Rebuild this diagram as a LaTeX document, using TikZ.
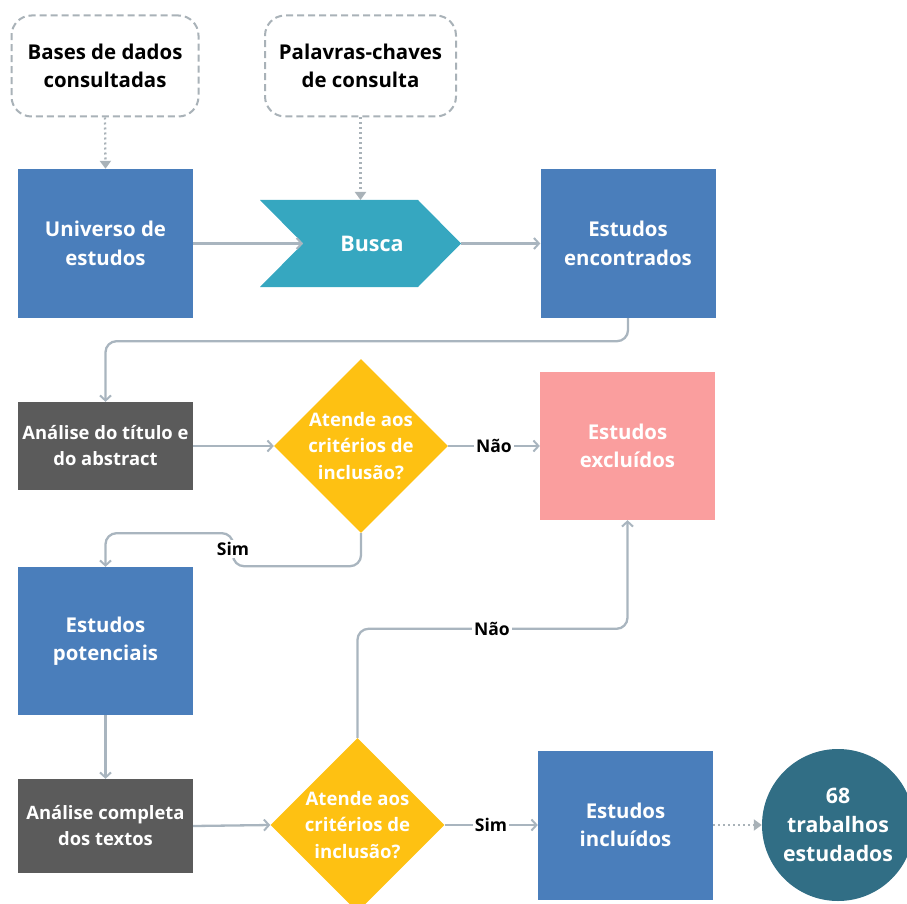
\documentclass[tikz,border=0pt]{standalone}
\usepackage{fontspec}
\setmainfont{Open Sans}
\usetikzlibrary{arrows.meta,shapes.geometric}

\definecolor{stepblue}{HTML}{4A7EBB}
\definecolor{stepgray}{HTML}{5B5B5B}
\definecolor{searchteal}{HTML}{36A7C0}
\definecolor{decisionyellow}{HTML}{FEC112}
\definecolor{rejectpink}{HTML}{FA9E9E}
\definecolor{resultteal}{HTML}{316E85}
\definecolor{linegray}{HTML}{A9B5BF}
\definecolor{dashgray}{HTML}{A9B2B8}

\tikzset{
  boxtext/.style={font=\fontsize{20.4}{28.5}\selectfont\bfseries, align=center},
  stepbox/.style={rectangle, inner sep=0pt, text=white, boxtext, minimum width=175pt},
  bluebox/.style={stepbox, fill=stepblue, minimum height=149pt},
  graybox/.style={stepbox, fill=stepgray, font=\fontsize{18.4}{26}\selectfont\bfseries},
  inputbox/.style={rectangle, rounded corners=20pt, draw=dashgray, line width=2pt,
    dash pattern=on 7pt off 4pt, fill=white, boxtext, inner sep=0pt, minimum height=101pt},
  decision/.style={diamond, fill=decisionyellow, text=white, inner sep=-14pt,
    minimum width=174pt, minimum height=174pt, align=center,
    font=\fontsize{18.6}{26.5}\selectfont\bfseries},
  conn/.style={draw=linegray, line width=2.3pt, rounded corners=11pt,
    -{Straight Barb[length=5pt,width=11pt,line width=2pt]}},
  dotconn/.style={draw=dashgray, line width=2.3pt, dash pattern=on 2pt off 3pt,
    -{Triangle[length=8pt,width=11pt]}},
  choice/.style={fill=white, inner sep=2pt, font=\fontsize{17.5}{20}\selectfont\bfseries}
}

\begin{document}
\begin{tikzpicture}[x=1pt,y=-1pt]
\useasboundingbox (0,0) rectangle (907,904);

% inputs of the search
\node[inputbox, minimum width=187pt] (bases) at (105,66) {Bases de dados\\consultadas};
\node[inputbox, minimum width=191pt] (palavras) at (360.5,66) {Palavras-chaves\\de consulta};

% search stage
\node[bluebox] (universo) at (105.5,243.5) {Universo de\\estudos};
\fill[searchteal] (260,200) -- (418,200) -- (461,243.5) -- (418,287) -- (260,287) -- (303,243.5) -- cycle;
\coordinate (buscaIn) at (303,243.5);
\coordinate (buscaOut) at (461,243.5);
\coordinate (buscaTop) at (360.5,200);
\node[text=white, inner sep=0pt, font=\fontsize{21.5}{28}\selectfont\bfseries] (busca) at (372,244) {Busca};
\node[bluebox] (encontrados) at (628,243.5) {Estudos\\encontrados};

% first screening
\node[graybox, minimum height=88pt] (titulo) at (105.5,446) {Análise do título e\\do abstract};
\node[decision] (crit1) at (361,446) {Atende aos\\critérios de\\inclusão?};
\node[stepbox, fill=rejectpink, minimum height=148pt] (excluidos) at (627.5,446) {Estudos\\excluídos};
\node[bluebox, minimum height=148pt] (potenciais) at (105.5,641) {Estudos\\potenciais};

% second screening
\node[graybox, minimum height=94pt] (completa) at (105.5,826) {Análise completa\\dos textos};
\node[decision] (crit2) at (357.5,825) {Atende aos\\critérios de\\inclusão?};
\node[bluebox] (incluidos) at (625.5,825) {Estudos\\incluídos};
\node[circle, fill=resultteal, text=white, align=center, inner sep=-10pt, minimum size=152pt,
  font=\fontsize{21.3}{29}\selectfont\bfseries] (total) at (838,825) {68\\trabalhos\\estudados};

% connectors
\draw[dotconn] (bases.south) -- (universo.north);
\draw[dotconn] (palavras.south) -- (buscaTop);
\draw[conn] (universo.east) -- (buscaIn);
\draw[conn] (buscaOut) -- (encontrados.west);
\draw[conn] (encontrados.south) -- ++(0,23) -| (titulo.north);
\draw[conn] (titulo.east) -- (crit1.west);
\draw[conn] (crit1.east) -- (excluidos.west);
\node[choice] (nao1) at (494,446) {Não};
\draw[conn] (crit1.south) |- ++(-128,33) -- ++(0,-33) -| (potenciais.north);
\node[choice] (sim1) at (233,549) {Sim};
\draw[conn] (potenciais.south) -- (completa.north);
\draw[conn] (completa.east) -- (crit2.west);
\draw[conn] (crit2.east) -- (incluidos.west);
\node[choice] (sim2) at (491,825) {Sim};
\draw[conn] (crit2.north) -- ++(0,-109) -| (excluidos.south);
\node[choice] (nao2) at (492,629) {Não};
\draw[dotconn] (incluidos.east) -- (total.west);
\end{tikzpicture}
\end{document}
